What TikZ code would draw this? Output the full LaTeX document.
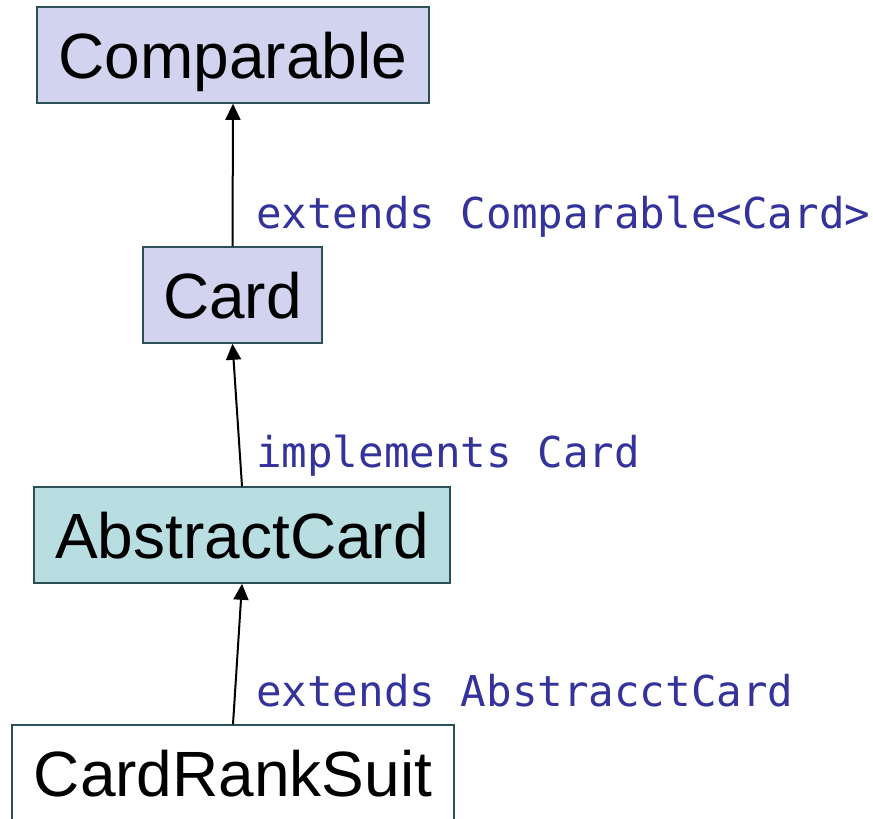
\documentclass[tikz,border=0pt]{standalone}
\usepackage{fontspec}
\setmainfont{Liberation Sans}
\newfontfamily\monof{DejaVu Sans Mono}
\usetikzlibrary{arrows.meta}
\definecolor{lav}{HTML}{D1D3EF}
\definecolor{teal}{HTML}{B9DEE1}
\definecolor{bord}{HTML}{2B5055}
\definecolor{lblue}{HTML}{33339B}
\begin{document}
\begin{tikzpicture}[x=1pt,y=-1pt,
  cls/.style={draw=bord, line width=1.6pt, rectangle, minimum height=96pt, inner sep=0pt,
    text height=46pt, text depth=0pt, font=\fontsize{64}{70}\selectfont},
  arr/.style={line width=2pt, -{Triangle[length=16pt,width=15pt]}},
  lbl/.style={anchor=base west, inner sep=0pt, text=lblue, font=\monof\fontsize{42.5}{48}\selectfont}]
\useasboundingbox (0,0) rectangle (873,819);
\node[cls, fill=lav, minimum width=392pt] (comp) at (233,55) {Comparable};
\node[cls, fill=lav, minimum width=179pt] (card) at (232.5,295) {Card};
\node[cls, fill=teal, minimum width=416pt] (ab) at (242,535) {AbstractCard};
\node[cls, fill=white, minimum width=442pt] (crs) at (233,773) {CardRankSuit};
\draw[arr] (card.north) -- (comp.south);
\draw[arr] (ab.north) -- (card.south);
\draw[arr] (crs.north) -- (ab.south);
\node[lbl] (l1) at (256,228) {extends Comparable<Card>};
\node[lbl] (l2) at (256,467) {implements Card};
\node[lbl] (l3) at (256,706) {extends AbstracctCard};
\end{tikzpicture}
\end{document}
